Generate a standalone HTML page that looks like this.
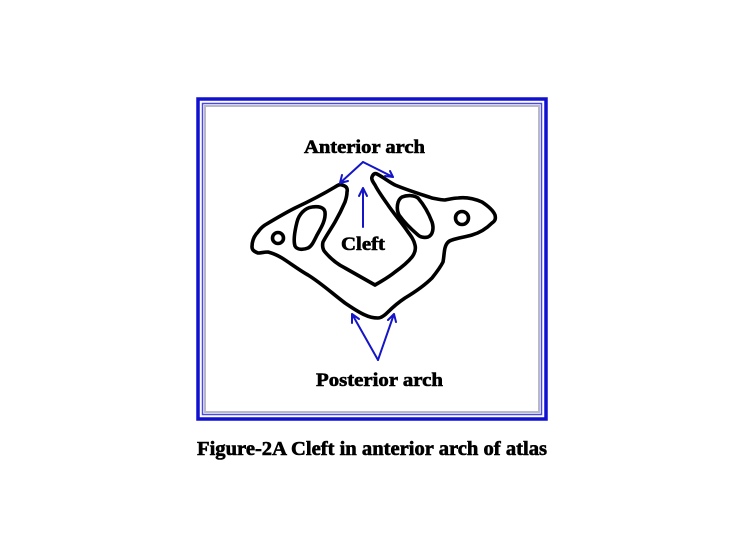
<!DOCTYPE html>
<html><head><style>
html,body{margin:0;padding:0;background:#fff;}
svg{display:block;}
text{font-family:"Liberation Serif",serif;font-weight:bold;fill:#000;stroke:#000;stroke-width:0.6;}
</style></head><body>
<svg width="739" height="552" viewBox="0 0 739 552" xmlns="http://www.w3.org/2000/svg">
<rect width="739" height="552" fill="#fff"/>
<rect x="198" y="99" width="348" height="320" fill="none" stroke="#1010d0" stroke-width="3.5"/>
<rect x="202.5" y="103.5" width="339" height="311" fill="none" stroke="#4a4ae0" stroke-width="1.5"/>
<rect x="205" y="106" width="334" height="306" fill="none" stroke="#b8b8c8" stroke-width="2"/>
<g fill="none" stroke="#000" stroke-width="3.6" stroke-linejoin="round" stroke-linecap="round">
<path d="M252,247 C252,240 255,235 258,232 C260,229 262,227 265,225 C275,219 285,213 295,208 C310,201 325,193 335,187 C338,185 340,184 342,185 C346,186 348,188 347,192 C347,196 346,199 345,202 C342,209 339,215 335,222 C331,229 326,236 323,242 C322,246 323,250 325,252 C330,258 337,264 345,268 L375,285 C382,281 389,277 395,272 C402,267 408,262 412,257 C415,253 416,249 415,245 C414,240 411,236 408,232 C402,223 394,214 388,205 C383,198 378,191 375,185 C373,182 371,179 372,177 C373,174 375,173 377,174 C383,177 389,182 395,185 C407,190 420,194 432,198 C437,199 441,200 445,200 C450,199 454,198 458,198 C466,197 475,199 482,202 C488,206 493,210 495,215 C496,219 495,221 492,223 C486,229 479,233 472,235 C465,237 458,238 452,240 C448,241 446,244 445,248 C444,252 444,257 443,262 C440,268 436,273 432,278 C424,286 415,292 405,298 C399,302 393,307 388,312 C385,315 381,318 378,318 C373,318 369,317 365,315 C358,312 351,307 345,303 C333,294 321,283 308,275 C299,270 290,263 282,258 C277,255 272,253 268,252 C264,252 261,253 258,253 C255,252 252,250 252,247 Z"/>
<circle cx="278" cy="238" r="5.5"/>
<path d="M297,222 C299,214 305,208 312,207 C318,206 324,207 325,212 C326,220 321,228 317,235 C314,241 312,246 308,248 C303,250 297,250 295,246 C293,240 295,230 297,222 Z"/>
<path d="M402,197 C407,195 414,195 418,198 C424,205 429,214 432,222 C434,228 433,235 428,237 C424,238 420,237 418,235 C411,229 404,222 399,215 C396,209 397,200 402,197 Z"/>
<circle cx="462" cy="218" r="6.5"/>
</g>
<g stroke="#1515c8" stroke-width="2" fill="none" stroke-linecap="round">
<path d="M363,162 L340,183 M340,183 l2,-8 M340,183 l8,-2"/>
<path d="M363,162 L393,177 M393,177 l-8,-1 M393,177 l-3,-6"/>
<path d="M363,227 L363,188 M363,188 l-4,8 M363,188 l4,8"/>
<path d="M378,360 L352,314 M352,314 l0,9 M352,314 l7,5"/>
<path d="M378,360 L394,314 M394,314 l-6,6 M394,314 l2,8"/>
</g>
<text x="304" y="153" font-size="19" textLength="121" lengthAdjust="spacingAndGlyphs">Anterior arch</text>
<text x="341" y="250" font-size="19" textLength="44" lengthAdjust="spacingAndGlyphs">Cleft</text>
<text x="316" y="386" font-size="19" textLength="127" lengthAdjust="spacingAndGlyphs">Posterior arch</text>
<text x="197" y="455" font-size="20" textLength="350" lengthAdjust="spacingAndGlyphs">Figure-2A Cleft in anterior arch of atlas</text>
</svg>
</body></html>
